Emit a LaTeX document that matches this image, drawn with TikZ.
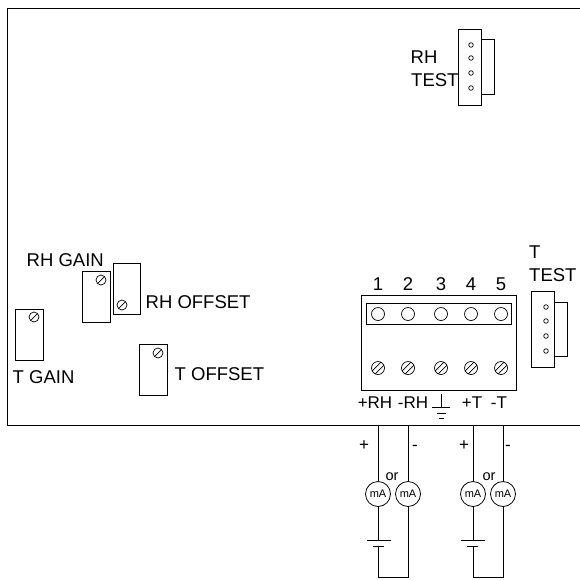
\documentclass[tikz,border=0pt]{standalone}
\usepackage{fontspec}
\setmainfont{Liberation Sans}
\usepackage{tikz}
\usetikzlibrary{shapes,arrows, positioning}
\tikzstyle{line} = [draw, line width=0.9pt]
\tikzstyle{pnode} = [rectangle, draw, line width=0.9pt, minimum width=27.5pt, minimum height=51pt, inner sep=0pt]
\tikzstyle{snode} = [circle, draw, line width=0.7pt, minimum size=10pt, inner sep=0pt, path picture={\draw (path picture bounding box.south west) -- (path picture bounding box.north east);}]
\tikzstyle{tnode} = [circle, draw, line width=0.7pt, minimum size=13pt, inner sep=0pt, path picture={\draw ([xshift=-1.5pt,yshift=1.5pt]path picture bounding box.south west) -- ([xshift=-1.5pt,yshift=1.5pt]path picture bounding box.north east); \draw ([xshift=1.5pt,yshift=-1.5pt]path picture bounding box.south west) -- ([xshift=1.5pt,yshift=-1.5pt]path picture bounding box.north east);}]
\tikzstyle{hnode} = [circle, draw, line width=0.7pt, minimum size=13pt, inner sep=0pt]
\tikzstyle{pin} = [circle, draw, line width=0.7pt, minimum size=4.6pt, inner sep=0pt]
\tikzstyle{mnode} = [circle, draw, fill=white, line width=0.8pt, minimum size=25pt, inner sep=0pt, font=\fontsize{11}{11}\selectfont]
\tikzstyle{lbl} = [inner sep=0pt, font=\fontsize{18.5}{18.5}\selectfont, anchor=base]
\tikzstyle{lbll} = [inner sep=0pt, font=\fontsize{18.5}{18.5}\selectfont, anchor=base west]
\tikzstyle{small} = [inner sep=0pt, font=\fontsize{17}{17}\selectfont, anchor=base]
\tikzstyle{orlbl} = [inner sep=0pt, font=\fontsize{14.5}{14.5}\selectfont, anchor=base]
\begin{document}
\begin{tikzpicture}[x=1pt, y=-1pt]
			\useasboundingbox (0,0) rectangle (580,579);
			% board outline
			\coordinate (tl) at (7,8);
			\coordinate (tr) at (580,8);
			\coordinate (bl) at (7,425);
			\coordinate (br) at (580,425);
			\path [line] (tr) -- (tl) -- (bl) -- (br);

			% RH test connector
			\node [rectangle, draw, line width=0.9pt, minimum width=13.5pt, minimum height=55pt, inner sep=0pt] (rhtab) at (487.75,66.5) {};
			\node [rectangle, draw, fill=white, line width=0.9pt, minimum width=23pt, minimum height=76pt, inner sep=0pt] (rhconn) at (469.5,67) {};
			\node [pin] (rhp1) at (471,45) {};
			\node [pin] (rhp2) at (471,58) {};
			\node [pin] (rhp3) at (471,73) {};
			\node [pin] (rhp4) at (471,88) {};
			\node [lbll] (rhtxt) at (410.5,63.5) {RH};
			\node [lbll] (rhtest) at (411,86.5) {TEST};

			% trim pots
			\node [pnode] (tgain) at (29.25,334.5) {};
			\node [snode] (tgains) at (34,317) {};
			\node [lbll] (tgaint) at (12.5,383) {T GAIN};
			\node [pnode] (rhgain) at (96.25,297) {};
			\node [snode] (rhgains) at (101,280) {};
			\node [lbll] (rhgaint) at (26.5,266.5) {RH GAIN};
			\node [pnode] (rhoff) at (127,288.5) {};
			\node [snode] (rhoffs) at (122,305) {};
			\node [lbll] (rhofft) at (145.5,308) {RH OFFSET};
			\node [pnode] (toff) at (153.25,370) {};
			\node [snode] (toffs) at (158,353) {};
			\node [lbll] (tofft) at (174.5,380) {T OFFSET};

			% terminal block
			\node [rectangle, draw, line width=0.9pt, minimum width=154.5pt, minimum height=95pt, inner sep=0pt] (block) at (438.75,342.5) {};
			\node [rectangle, draw, line width=0.9pt, minimum width=145pt, minimum height=21pt, inner sep=0pt] (strip) at (438.5,314) {};
			\node [hnode] (h1) at (378,314) {};
			\node [hnode] (h2) at (408,314) {};
			\node [hnode] (h3) at (441,314) {};
			\node [hnode] (h4) at (471,314) {};
			\node [hnode] (h5) at (501,314) {};
			\node [tnode] (s1) at (378,368) {};
			\node [tnode] (s2) at (408,368) {};
			\node [tnode] (s3) at (441,368) {};
			\node [tnode] (s4) at (471,368) {};
			\node [tnode] (s5) at (501,368) {};
			\node [lbl] (n1) at (378,290.5) {1};
			\node [lbl] (n2) at (408,290.5) {2};
			\node [lbl] (n3) at (441,290.5) {3};
			\node [lbl] (n4) at (471,290.5) {4};
			\node [lbl] (n5) at (501,290.5) {5};
			\node [small] (lp1) at (375,408.5) {+RH};
			\node [small] (lm1) at (413,408.5) {-RH};
			\node [small] (lp2) at (472,408.5) {+T};
			\node [small] (lm2) at (499,408.5) {-T};

			% ground symbol
			\coordinate (g0) at (441,394);
			\coordinate (g1) at (441,407);
			\coordinate (g2a) at (432,407);
			\coordinate (g2b) at (450,407);
			\coordinate (g3a) at (437,413);
			\coordinate (g3b) at (446,413);
			\coordinate (g4a) at (439,418);
			\coordinate (g4b) at (444,418);
			\path [line] (g0) -- (g1);
			\path [line] (g2a) -- (g2b);
			\path [line] (g3a) -- (g3b);
			\path [line] (g4a) -- (g4b);

			% T test connector
			\node [rectangle, draw, line width=0.9pt, minimum width=13pt, minimum height=54pt, inner sep=0pt] (ttab) at (561,329.5) {};
			\node [rectangle, draw, fill=white, line width=0.9pt, minimum width=23pt, minimum height=76pt, inner sep=0pt] (tconn) at (543,329.5) {};
			\node [pin] (tp1) at (546,307) {};
			\node [pin] (tp2) at (546,321) {};
			\node [pin] (tp3) at (546,336) {};
			\node [pin] (tp4) at (546,351) {};
			\node [lbll] (tt) at (529,258) {T};
			\node [lbll] (ttest) at (529,281.5) {TEST};

			% meters
			\node [mnode] (m1) at (378,494) {mA};
			\node [mnode] (m2) at (408,494) {mA};
			\node [mnode] (m3) at (473,494) {mA};
			\node [mnode] (m4) at (503,494) {mA};
			\node [orlbl] (or1) at (392,480) {or};
			\node [orlbl] (or2) at (489,480) {or};
			\node [small] (p1) at (364,450.5) {+};
			\node [small] (d1) at (415,450.5) {-};
			\node [small] (p2) at (464,450.5) {+};
			\node [small] (d2) at (508,450.5) {-};

			% wires and cells
			\coordinate (a1) at (378,425);
			\coordinate (a2) at (408,425);
			\coordinate (a3) at (473,425);
			\coordinate (a4) at (503,425);
			\coordinate (c1) at (378,540);
			\coordinate (c1a) at (367,540);
			\coordinate (c1b) at (391,540);
			\coordinate (c2) at (378,546);
			\coordinate (c2a) at (373,546);
			\coordinate (c2b) at (384,546);
			\coordinate (b1) at (378,577.5);
			\coordinate (b2) at (408,577.5);
			\coordinate (c3) at (473,540);
			\coordinate (c3a) at (461,540);
			\coordinate (c3b) at (485,540);
			\coordinate (c4) at (473,546);
			\coordinate (c4a) at (467,546);
			\coordinate (c4b) at (478,546);
			\coordinate (b3) at (473,577.5);
			\coordinate (b4) at (503,577.5);
			\path [line] (a1) -- (m1);
			\path [line] (a2) -- (m2);
			\path [line] (a3) -- (m3);
			\path [line] (a4) -- (m4);
			\path [line] (m1) -- (c1);
			\path [line] (c1a) -- (c1b);
			\path [line] (c2a) -- (c2b);
			\path [line] (c2) -- (b1) -- (b2) -- (m2);
			\path [line] (m3) -- (c3);
			\path [line] (c3a) -- (c3b);
			\path [line] (c4a) -- (c4b);
			\path [line] (c4) -- (b3) -- (b4) -- (m4);
		\end{tikzpicture}
\end{document}
